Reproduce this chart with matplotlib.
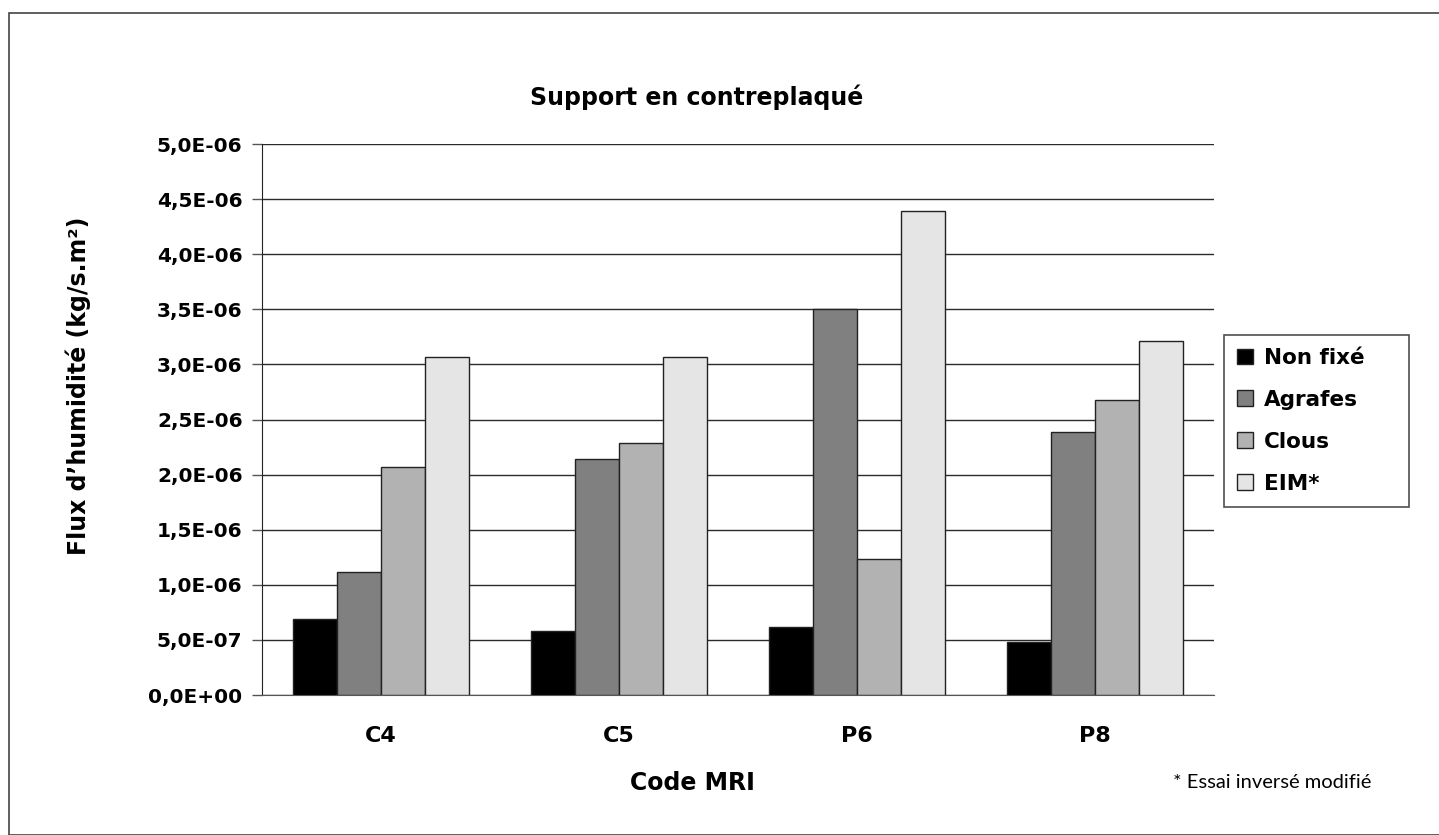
import matplotlib.pyplot as plt
import numpy as np
from matplotlib.ticker import FuncFormatter, MultipleLocator
from matplotlib.patches import Rectangle

plt.rcParams['font.family'] = ['DejaVu Sans']
NOTE_FONT = ['Lato', 'DejaVu Sans']

# ## Data
codes = ['C4', 'C5', 'P6', 'P8']
series = ['Non fixé', 'Agrafes', 'Clous', 'EIM*']
non_fixe = [0.69e-6, 0.58e-6, 0.62e-6, 0.48e-6]
agrafes = [1.12e-6, 2.14e-6, 3.50e-6, 2.39e-6]
clous = [2.07e-6, 2.285e-6, 1.23e-6, 2.68e-6]
eim = [3.07e-6, 3.07e-6, 4.39e-6, 3.21e-6]
colors = ['#000000', '#808080', '#b2b2b2', '#e5e5e5']

fig = plt.figure(figsize=(14.39, 8.35), dpi=100)
W, H = 1439, 835
ax = fig.add_axes([262 / W, 1 - 695 / H, (1214 - 262) / W, (695 - 144) / H])

# outer chart border
fig.add_artist(Rectangle((9 / W, 0), 1, 1 - 13 / H, transform=fig.transFigure,
                         fill=False, edgecolor='#444444', lw=1.2))

x = np.arange(len(codes))
bw = 0.185
for i, (vals, name) in enumerate(zip([non_fixe, agrafes, clous, eim], series)):
    ax.bar(x + (i - 1.5) * bw, vals, bw, color=colors[i], edgecolor='#222222',
           lw=1, label=name, zorder=3)

ax.set_xlim(-0.5, len(codes) - 0.5)
ax.set_ylim(0, 5e-6)
ax.yaxis.set_major_locator(MultipleLocator(5e-7))
ax.yaxis.set_major_formatter(FuncFormatter(lambda v, p: f'{v:.1E}'.replace('.', ',')))
ax.grid(axis='y', color='#2a2a2a', lw=1, zorder=0)
ax.set_xticks(x)
ax.set_xticklabels(codes)
ax.tick_params(axis='x', length=0, pad=22, labelsize=16)
ax.tick_params(axis='y', length=7, width=1, direction='out', labelsize=14.5, pad=7,
               color='#555555')
for lab in ax.get_xticklabels() + ax.get_yticklabels():
    lab.set_fontweight('bold')
for s in ['top', 'right']:
    ax.spines[s].set_visible(False)
ax.spines['left'].set_color('#222222')
ax.spines['bottom'].set_color('#555555')

fig.text(697 / W, 1 - 97 / H, 'Support en contreplaqué', fontsize=17,
         fontweight='bold', ha='center', va='center')
fig.text(692 / W, 1 - 783 / H, 'Code MRI', fontsize=17, fontweight='bold',
         ha='center', va='center')
fig.text(78 / W, 1 - 386 / H, 'Flux d’humidité (kg/s.m²)', fontsize=17,
         fontweight='bold', rotation=90, ha='center', va='center')

leg = ax.legend(loc='upper left', mode='expand',
                bbox_to_anchor=(1224 / W, 1 - 505 / H, 185 / W, 170 / H),
                bbox_transform=fig.transFigure, frameon=True, fancybox=False,
                borderaxespad=0, edgecolor='#222222',
                prop={'weight': 'bold', 'size': 15.5},
                handlelength=0.75, handleheight=0.75, labelspacing=1.02,
                handletextpad=0.5, borderpad=0.6)
leg.get_frame().set_linewidth(1.2)

fig.text(1272 / W, 1 - 782 / H, '* Essai inversé modifié', fontsize=14.5,
         family=NOTE_FONT, ha='center', va='center')

plt.savefig('out.png', dpi=100)
plt.close()
